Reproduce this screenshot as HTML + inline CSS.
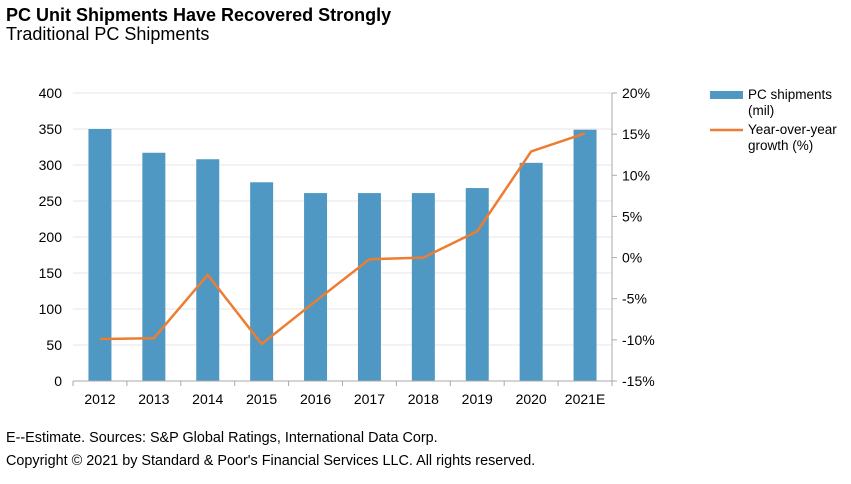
<!DOCTYPE html>
<html><head><meta charset="utf-8"><style>
body{margin:0;background:#fff;font-family:"Liberation Sans",Arial,sans-serif;}
svg text{font-family:"Liberation Sans",Arial,sans-serif;}
</style></head><body>
<svg width="851" height="479">
<text x="6" y="21" font-size="18" font-weight="bold" fill="#000">PC Unit Shipments Have Recovered Strongly</text>
<text x="6" y="40" font-size="18" fill="#000">Traditional PC Shipments</text>
<g id="grid"></g><g id="bars"></g><g id="line"></g><g id="axes"></g>
<g>
<rect x="710" y="91" width="33" height="8" fill="#4f98c3"/>
<text x="748" y="99" font-size="13.5">PC shipments</text>
<text x="748" y="115" font-size="13.5">(mil)</text>
<line x1="710" y1="130" x2="743" y2="130" stroke="#ed7d31" stroke-width="2.5"/>
<text x="748" y="134" font-size="13.5">Year-over-year</text>
<text x="748" y="150" font-size="13.5">growth (%)</text>
</g>
<text x="6" y="442" font-size="14.4">E--Estimate. Sources: S&amp;P Global Ratings, International Data Corp.</text>
<text x="6" y="465" font-size="14.4">Copyright © 2021 by Standard &amp; Poor's Financial Services LLC. All rights reserved.</text>
</svg>
<script>
const categories=["2012","2013","2014","2015","2016","2017","2018","2019","2020","2021E"];
const shipments=[350,317,308,276,261,261,261,268,303,349];
const growth=[-9.9,-9.8,-2.1,-10.5,-5.3,-0.2,0,3.2,12.9,15.1];
const leftTicks=[0,50,100,150,200,250,300,350,400];
const rightTicks=[-15,-10,-5,0,5,10,15,20];
const NS="http://www.w3.org/2000/svg";
const X0=73,X1=612,YT=93,YB=381;
const bw=(X1-X0)/categories.length;
const yL=v=>YB-(v/400)*(YB-YT);
const yR=v=>YB-((v+15)/35)*(YB-YT);
const xC=i=>X0+bw*(i+0.5);
function mk(t,a,p){const e=document.createElementNS(NS,t);for(const k in a)e.setAttribute(k,a[k]);p.appendChild(e);return e;}
const grid=document.getElementById('grid'),bars=document.getElementById('bars'),line=document.getElementById('line'),axes=document.getElementById('axes');
leftTicks.forEach(v=>{
 if(v>0){const g=mk('line',{x1:X0,x2:X1,y1:yL(v),y2:yL(v),stroke:'#e6e6e6','stroke-width':1},grid);
 
 }
 const t=mk('text',{x:62,y:yL(v)+5,'font-size':14,'text-anchor':'end'},axes);t.textContent=v;
 
 
});
rightTicks.forEach(v=>{
 mk('line',{x1:X1,x2:X1+5,y1:yR(v),y2:yR(v),stroke:'#aaa'},axes);
 const t=mk('text',{x:622,y:yR(v)+5,'font-size':14},axes);t.textContent=v+'%';
 
 
});
const ra=mk('line',{x1:X1,x2:X1,y1:YT,y2:YB,stroke:'#aaa'},axes);


const xa=mk('line',{x1:X0,x2:X1,y1:YB,y2:YB,stroke:'#aaa'},axes);


for(let i=0;i<=categories.length;i++)mk('line',{x1:X0+bw*i,x2:X0+bw*i,y1:YB,y2:YB+5,stroke:'#aaa'},axes);
categories.forEach((c,i)=>{
 const b=mk('rect',{x:xC(i)-11.5,y:yL(shipments[i]),width:23,height:YB-yL(shipments[i]),fill:'#4f98c3'},bars);
 
 
 const t=mk('text',{x:xC(i),y:404,'font-size':14,'text-anchor':'middle'},axes);t.textContent=c;
 
 
});
const pl=mk('polyline',{points:growth.map((g,i)=>xC(i)+','+yR(g)).join(' '),fill:'none',stroke:'#ed7d31','stroke-width':2.5,'stroke-linejoin':'round'},line);


</script>
</body></html>
